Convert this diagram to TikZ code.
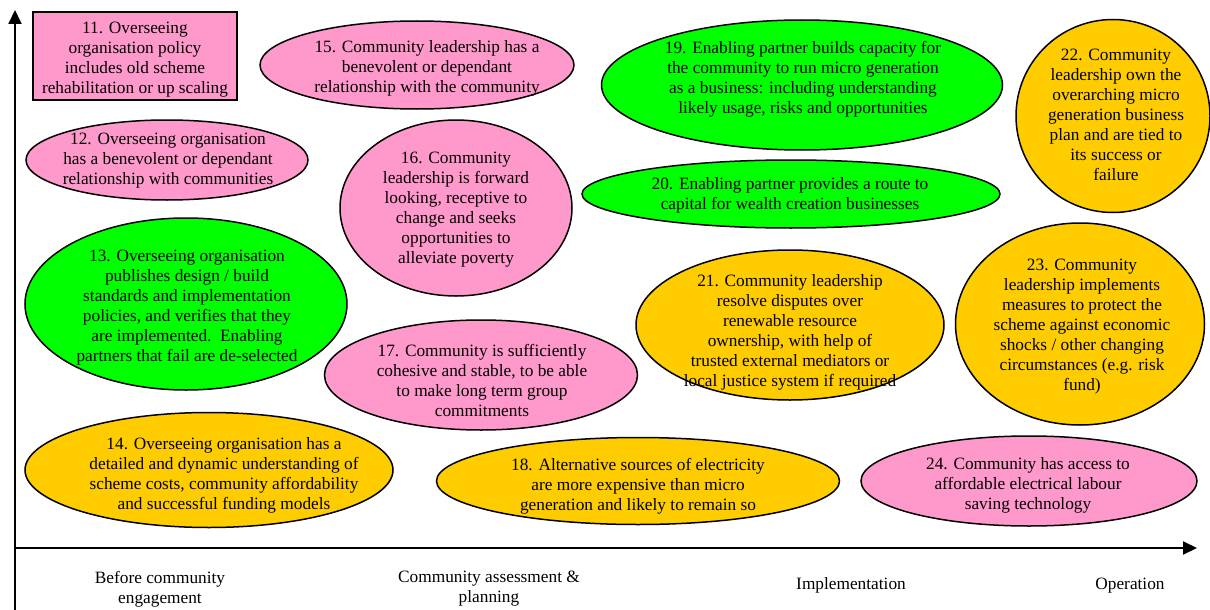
\documentclass[tikz,border=0pt]{standalone}
\usepackage{fontspec}
\setmainfont{Liberation Serif}
\usetikzlibrary{shapes.geometric,arrows.meta}
\definecolor{cpink}{RGB}{255,153,204}
\definecolor{cgreen}{RGB}{0,255,0}
\definecolor{cgold}{RGB}{255,204,0}
\tikzset{
  bub/.style={ellipse, draw=black, line width=1.5pt, inner sep=0pt},
  txt/.style={align=center, inner sep=0pt, font=\fontsize{17.3}{20}\selectfont},
  axis/.style={line width=2pt, -{Triangle[length=14pt,width=13pt]}},
}
\begin{document}
\begin{tikzpicture}[x=1pt,y=-1pt]
\useasboundingbox (0,0) rectangle (1210,610);
% axes
\coordinate (ybot) at (15,610);
\coordinate (ytop) at (15,10);
\coordinate (o) at (15,548);
\coordinate (xend) at (1197,548);
\draw[axis] (ybot) -- (ytop);
\draw[axis] (o) -- (xend);

% 11 box
\node[draw=black, line width=2.5pt, fill=cpink, minimum width=204pt, minimum height=88pt, inner sep=0pt] (b11) at (135,56) {};
\node[txt] (t11) at (135,60) {11. Overseeing\\organisation policy\\includes old scheme\\rehabilitation or up scaling};

% 12
\node[bub, fill=cpink, minimum width=282pt, minimum height=80pt] (e12) at (167,160) {};
\node[txt] (t12) at (168,161) {12. Overseeing organisation\\has a benevolent or dependant\\relationship with communities};

% 13
\node[bub, fill=cgreen, minimum width=322pt, minimum height=172pt] (e13) at (186,304) {};
\node[txt] (t13) at (187,308) {13. Overseeing organisation\\publishes design / build\\standards and implementation\\policies, and verifies that they\\are implemented.\ \ Enabling\\partners that fail are de-selected};

% 14
\node[bub, fill=cgold, minimum width=368pt, minimum height=115pt] (e14) at (209,470) {};
\node[txt] (t14) at (224,475) {14. Overseeing organisation has a\\detailed and dynamic understanding of\\scheme costs, community affordability\\and successful funding models};

% 15
\node[bub, fill=cpink, minimum width=314pt, minimum height=88pt] (e15) at (417,65) {};
\node[txt] (t15) at (427,68) {15. Community leadership has a\\benevolent or dependant\\relationship with the community};

% 16
\node[bub, fill=cpink, minimum width=232pt, minimum height=176pt] (e16) at (456,208) {};
\node[txt] (t16) at (456,210) {16. Community\\leadership is forward\\looking, receptive to\\change and seeks\\opportunities to\\alleviate poverty};

% 17
\node[bub, fill=cpink, minimum width=313pt, minimum height=110pt] (e17) at (481,375) {};
\node[txt] (t17) at (482,380) {17. Community is sufficiently\\cohesive and stable, to be able\\to make long term group\\commitments};

% 18
\node[bub, fill=cgold, minimum width=403pt, minimum height=87pt] (e18) at (638,481) {};
\node[txt] (t18) at (638,486) {18. Alternative sources of electricity\\are more expensive than micro\\generation and likely to remain so};

% 19
\node[bub, fill=cgreen, minimum width=401pt, minimum height=130pt] (e19) at (802,85) {};
\node[txt] (t19) at (803,79) {19. Enabling partner builds capacity for\\the community to run micro generation\\as a business: including understanding\\likely usage, risks and opportunities};

% 20
\node[bub, fill=cgreen, minimum width=418pt, minimum height=68pt] (e20) at (791,194) {};
\node[txt] (t20) at (790,195) {20. Enabling partner provides a route to\\capital for wealth creation businesses};

% 21
\node[bub, fill=cgold, minimum width=308pt, minimum height=150pt] (e21) at (790,325) {};
\node[txt] (t21) at (790,332) {21. Community leadership\\resolve disputes over\\renewable resource\\ownership, with help of\\trusted external mediators or\\local justice system if required};

% 22
\node[bub, fill=cgold, minimum width=194pt, minimum height=193pt] (e22) at (1113,116) {};
\node[txt] (t22) at (1116,115) {22. Community\\leadership own the\\overarching micro\\generation business\\plan and are tied to\\its success or\\failure};

% 23
\node[bub, fill=cgold, minimum width=249pt, minimum height=202pt] (e23) at (1080,324) {};
\node[txt] (t23) at (1082,327) {23. Community\\leadership implements\\measures to protect the\\scheme against economic\\shocks / other changing\\circumstances (e.g. risk\\fund)};

% 24
\node[bub, fill=cpink, minimum width=336pt, minimum height=90pt] (e24) at (1029,481) {};
\node[txt] (t24) at (1028,485) {24. Community has access to\\affordable electrical labour\\saving technology};

% axis labels
\node[txt] (l1) at (160,589) {Before community\\engagement};
\node[txt] (l2) at (489,589) {Community assessment \&\\planning};
\node[txt] (l3) at (851,585) {Implementation};
\node[txt] (l4) at (1130,586) {Operation};
\end{tikzpicture}
\end{document}
